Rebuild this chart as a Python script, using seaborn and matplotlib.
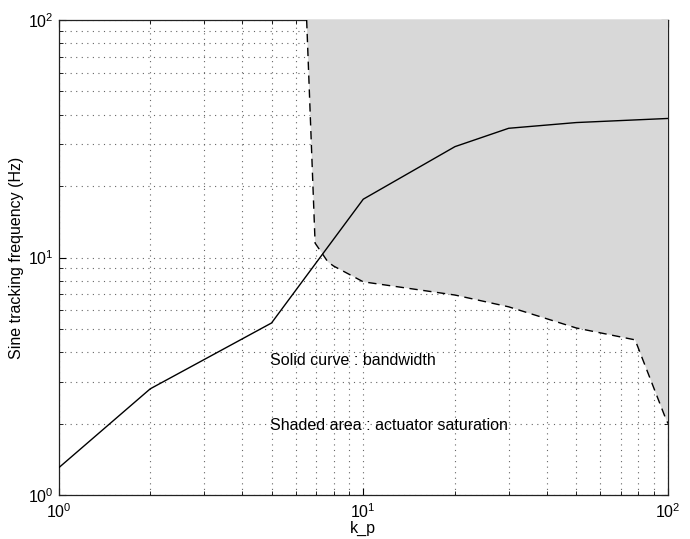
import matplotlib
matplotlib.use("Agg")
import matplotlib.pyplot as plt
import seaborn as sns
import pandas as pd
from matplotlib.ticker import LogLocator, NullFormatter

# Bandwidth of the closed loop versus proportional gain
kp_values = [1, 2, 5, 10, 20, 30, 50, 100]
bandwidth_hz = [1.3, 2.8, 5.3, 17.6, 29.3, 35.0, 37.0, 38.5]

# Lower edge of the actuator saturation region
sat_kp = [6.52, 6.95, 7.66, 8.0, 10, 20, 30, 50, 78, 97.7, 100]
sat_hz = [100, 11.5, 9.57, 9.2, 7.9, 6.95, 6.2, 5.05, 4.5, 2.14, 2.0]

sns.set_style("ticks")
plt.rcParams["font.family"] = ["Liberation Sans", "DejaVu Sans"]
plt.rcParams["xtick.direction"] = "in"
plt.rcParams["ytick.direction"] = "in"
plt.rcParams["text.color"] = "black"
plt.rcParams["axes.labelcolor"] = "black"
plt.rcParams["xtick.color"] = "black"
plt.rcParams["ytick.color"] = "black"

fig = plt.figure(figsize=(6.9, 5.39), dpi=100)
ax = fig.add_axes([0.0848, 0.0816, 0.8833, 0.8813])

ax.set_xscale("log")
ax.set_yscale("log")
ax.set_xlim(1, 100)
ax.set_ylim(1, 100)

# dotted grid on every decade and sub-decade
ax.xaxis.set_minor_locator(LogLocator(base=10, subs=range(2, 10)))
ax.yaxis.set_minor_locator(LogLocator(base=10, subs=range(2, 10)))
ax.xaxis.set_minor_formatter(NullFormatter())
ax.yaxis.set_minor_formatter(NullFormatter())
ax.grid(True, which="both", linestyle=(0, (1, 4)), color="#666666", linewidth=0.8)

# shaded saturation region
ax.fill_between(sat_kp, sat_hz, 100, facecolor="#d8d8d8", edgecolor="none",
                zorder=3)
ax.plot(sat_kp, sat_hz, color="black", linestyle=(0, (6, 4)), linewidth=1.0,
        zorder=4)

df = pd.DataFrame({"k_p": kp_values, "bw": bandwidth_hz})
sns.lineplot(data=df, x="k_p", y="bw", color="black", linewidth=1.0,
             ax=ax, zorder=5)

ax.text(4.94, 3.7, "Solid curve : bandwidth", fontsize=11.5, va="center",
        ha="left", zorder=6)
ax.text(4.94, 1.97, "Shaded area : actuator saturation", fontsize=11.5,
        va="center", ha="left", zorder=6)

ax.set_xlabel("k_p", fontsize=11.5, labelpad=0)
ax.set_ylabel("Sine tracking frequency (Hz)", fontsize=11.5, labelpad=3)
ax.tick_params(axis="both", which="major", labelsize=11.5, length=5,
               width=0.8, top=True, right=True)
ax.tick_params(axis="both", which="minor", length=3, width=0.6,
               top=True, right=True)
ax.tick_params(axis="x", pad=5)

for side in ax.spines.values():
    side.set_color("#222222")
    side.set_linewidth(0.9)

fig.savefig("out.png", dpi=100)
